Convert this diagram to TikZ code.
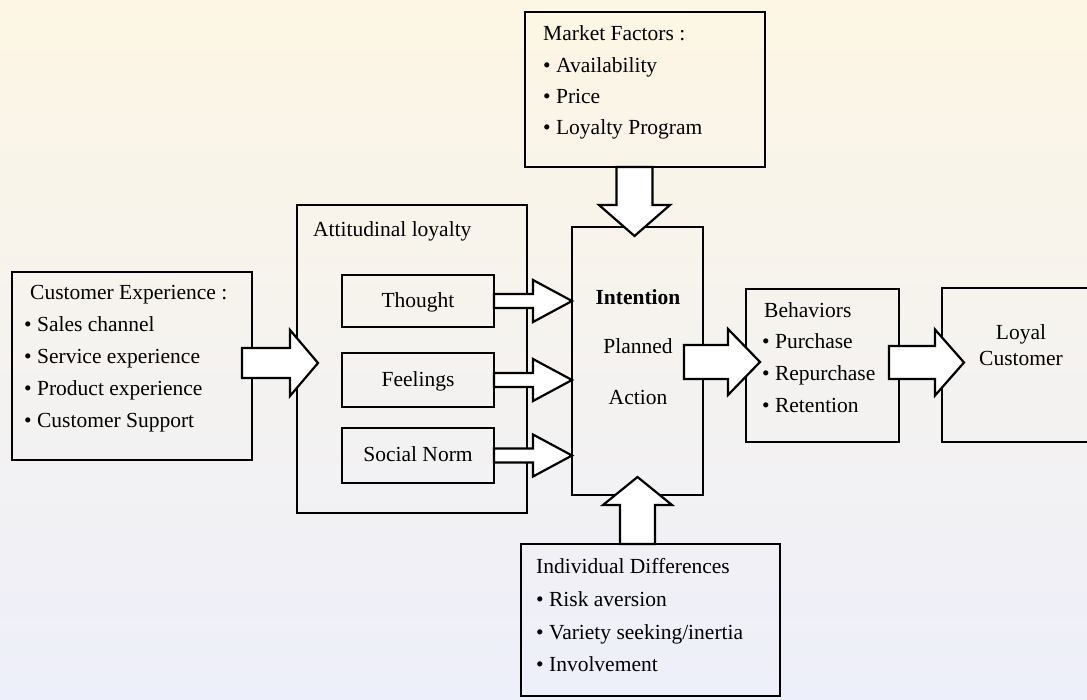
\documentclass[tikz,border=0pt]{standalone}
\usepackage{fontspec}
\setmainfont{Liberation Serif}
\usetikzlibrary{calc}
\definecolor{cream}{HTML}{FDF6E4}
\definecolor{lav}{HTML}{EDEFFA}
\tikzset{
  box/.style={draw=black, line width=1.5pt, inner sep=0pt, outer sep=0pt, anchor=north west},
  lbl/.style={anchor=west, inner sep=0pt, text height=16pt, text depth=4pt, font=\fontsize{21.5}{25}\selectfont},
  clbl/.style={anchor=center, inner sep=0pt, text height=16pt, text depth=4pt, font=\fontsize{21.5}{25}\selectfont},
  blockarrow/.style={draw=black, fill=white, line width=2.2pt, line join=miter},
}
\newcommand{\harrow}[5]{%
  \filldraw[blockarrow] let \p1=(#1), \p2=(#2) in
    (\x1,\y2+#3pt) -- (\x2-#5pt,\y2+#3pt) -- (\x2-#5pt,\y2+#4pt) -- (\x2,\y2)
    -- (\x2-#5pt,\y2-#4pt) -- (\x2-#5pt,\y2-#3pt) -- (\x1,\y2-#3pt) -- cycle;}
\newcommand{\varrow}[5]{%
  \filldraw[blockarrow] let \p1=(#1), \p2=(#2) in
    (\x2-#3pt,\y1) -- (\x2-#3pt,{\y2+(#5pt)}) -- (\x2-#4pt,{\y2+(#5pt)}) -- (\x2,\y2)
    -- (\x2+#4pt,{\y2+(#5pt)}) -- (\x2+#3pt,{\y2+(#5pt)}) -- (\x2+#3pt,\y1) -- cycle;}
\begin{document}
\begin{tikzpicture}[x=1pt,y=-1pt]
\useasboundingbox (0,0) rectangle (1087,699);
\shade[top color=cream, bottom color=lav] (0,0) rectangle (1087,699);

% boxes
\node[box, minimum width=240pt, minimum height=188pt] (cust) at (12,272) {};
\node[box, minimum width=230pt, minimum height=308pt] (att) at (297,205) {};
\node[box, minimum width=152pt, minimum height=52pt] (thought) at (342,275) {};
\node[box, minimum width=152pt, minimum height=54pt] (feel) at (342,353) {};
\node[box, minimum width=152pt, minimum height=55pt] (social) at (342,428) {};
\node[box, minimum width=131pt, minimum height=268pt] (intent) at (572,227) {};
\node[box, minimum width=153pt, minimum height=153pt] (behav) at (746,289) {};
\node[box, minimum width=160pt, minimum height=154pt] (loyal) at (942,288) {};
\node[box, minimum width=240pt, minimum height=155pt] (market) at (525,12) {};
\node[box, minimum width=259pt, minimum height=152pt] (indiv) at (521,544) {};

% texts
\node[lbl] (custT) at (30,293) {Customer Experience :};
\node[lbl] (cust1) at (24,325) {\textbullet{} Sales channel};
\node[lbl] (cust2) at (24,357) {\textbullet{} Service experience};
\node[lbl] (cust3) at (24,389) {\textbullet{} Product experience};
\node[lbl] (cust4) at (24,421) {\textbullet{} Customer Support};

\node[lbl] (attT) at (313,230) {Attitudinal loyalty};
\node[clbl] at (thought.center) {Thought};
\node[clbl] at (feel.center) {Feelings};
\node[clbl] at (social.center) {Social Norm};

\node[clbl, font=\fontsize{21.5}{25}\selectfont\bfseries] (intT) at (638,298) {Intention};
\node[clbl] (int1) at (638,347) {Planned};
\node[clbl] (int2) at (638,398) {Action};

\node[lbl] (behT) at (764,311) {Behaviors};
\node[lbl] (beh1) at (762,342) {\textbullet{} Purchase};
\node[lbl] (beh2) at (762,374) {\textbullet{} Repurchase};
\node[lbl] (beh3) at (762,406) {\textbullet{} Retention};

\node[clbl] (loy1) at (1021,333) {Loyal};
\node[clbl] (loy2) at (1021,359) {Customer};

\node[lbl] (mktT) at (543,34) {Market Factors :};
\node[lbl] (mkt1) at (543,66) {\textbullet{} Availability};
\node[lbl] (mkt2) at (543,97) {\textbullet{} Price};
\node[lbl] (mkt3) at (543,128) {\textbullet{} Loyalty Program};

\node[lbl] (indT) at (536,567) {Individual Differences};
\node[lbl] (ind1) at (536,600) {\textbullet{} Risk aversion};
\node[lbl] (ind2) at (536,633) {\textbullet{} Variety seeking/inertia};
\node[lbl] (ind3) at (536,665) {\textbullet{} Involvement};

% block arrows
\harrow{$(cust.east)+(-10,-3)$}{$(att.west |- cust.east)+(21,-3)$}{15}{33}{28}
\harrow{thought.east}{intent.west |- thought.east}{7}{21}{39}
\harrow{feel.east}{intent.west |- feel.east}{7}{21}{39}
\harrow{social.east}{intent.west |- social.east}{7}{21}{39}
\harrow{$(intent.east)+(-19,1)$}{$(behav.west |- intent.east)+(14,1)$}{17}{33}{32}
\harrow{$(behav.east)+(-10,-3)$}{$(loyal.west |- behav.east)+(22,-3)$}{16.5}{33}{29}
\varrow{$(intent.north |- market.south)+(-3,0)$}{$(intent.north)+(-3,9)$}{18}{35.5}{31}
\varrow{intent.south |- indiv.north}{$(intent.south)+(0,-18)$}{17.5}{34.5}{-28}
\end{tikzpicture}
\end{document}
